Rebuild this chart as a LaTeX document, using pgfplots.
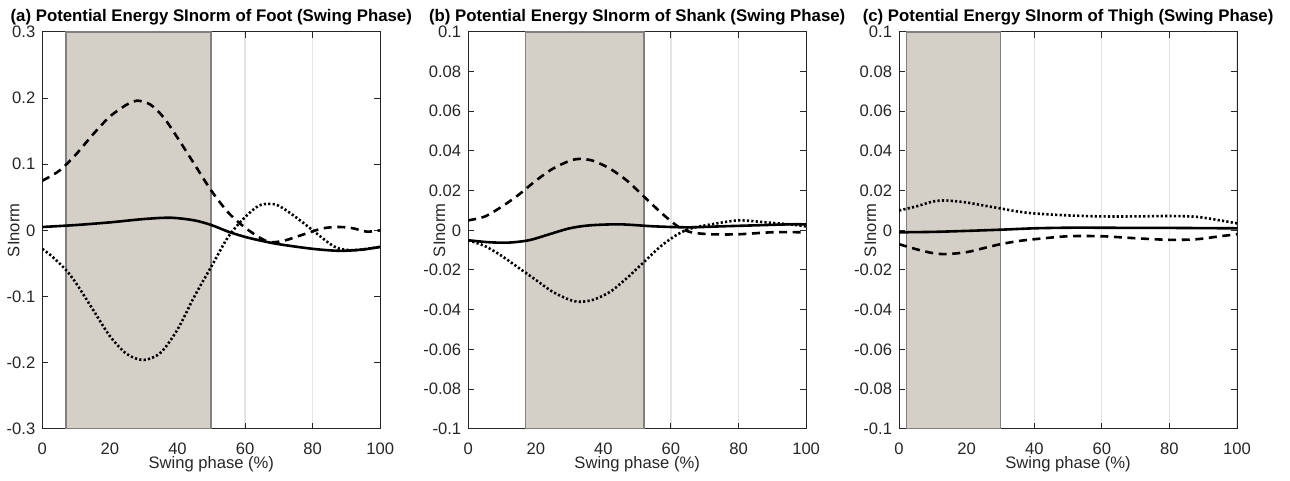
\documentclass[border={0pt 1pt 5pt 1.5pt}]{standalone}
\usepackage{fontspec}
\setmainfont{Liberation Sans}
\usepackage{pgfplots}
\pgfplotsset{compat=1.18}
\definecolor{patchgray}{RGB}{212,208,200}
\definecolor{edgegray}{RGB}{128,128,128}
\definecolor{axgray}{RGB}{38,38,38}
\definecolor{gridgray}{RGB}{228,228,228}
\pgfplotsset{
  swing/.style={
    scale only axis, width=169pt, height=198.5pt,
    xmin=0, xmax=100, xtick={0,20,...,100},
    font=\fontsize{8.3}{10}\selectfont,
    /pgf/number format/assume math mode=true,
    tick label style={font=\fontsize{8.3}{10}\selectfont, text=axgray},
    xticklabel style={yshift=-3.5pt},
    title style={font=\fontsize{8.4}{10}\selectfont\bfseries, yshift=-6.3pt},
    xlabel={Swing phase (\%)}, ylabel={SInorm},
    xlabel style={yshift=6pt, text=axgray},
    ylabel style={at={(axis description cs:-0.085,0.5)}, anchor=center, text=axgray},
    axis line style={axgray, line width=0.5pt},
    tick style={axgray, line width=0.5pt},
    tick align=inside, major tick length=3pt,
    xmajorgrids, grid style={gridgray, line width=0.6pt},
    every axis plot/.append style={black, line width=1.3pt},
  },
  dsh/.style={dash pattern=on 4pt off 2.8pt},
  dot/.style={dash pattern=on 1.1pt off 1.1pt},
  shade/.style={fill=patchgray, draw=edgegray, line width=0.8pt},
}
\begin{document}
\begin{tikzpicture}
% (a) Foot
\begin{axis}[swing, at={(0pt,0pt)}, ymin=-0.3, ymax=0.3, ytick={-0.3,-0.2,...,0.3},
  yticklabels={-0.3,-0.2,-0.1,0,0.1,0.2,0.3},
  title={(a) Potential Energy SInorm of Foot (Swing Phase)}]
\addplot[shade] coordinates {(7,-0.3) (7,0.3) (50,0.3) (50,-0.3)} -- cycle;
\addplot[dsh, smooth] coordinates {(0,0.075) (5,0.09) (10,0.115) (15,0.145) (20,0.172) (25,0.19) (28,0.196) (32,0.19) (36,0.17) (40,0.14) (45,0.1) (50,0.06) (55,0.027) (60,0.004) (65,-0.013) (68,-0.018) (72,-0.015) (78,-0.005) (83,0.003) (88,0.005) (92,0.003) (96,-0.002) (100,0.0)};
\addplot[dot, smooth] coordinates {(0,-0.028) (3,-0.04) (7,-0.06) (10,-0.08) (15,-0.12) (20,-0.16) (25,-0.187) (30,-0.196) (35,-0.185) (40,-0.15) (45,-0.1) (50,-0.055) (55,-0.01) (60,0.02) (64,0.037) (67,0.04) (70,0.037) (75,0.02) (80,0.0) (85,-0.02) (88,-0.028) (92,-0.03) (96,-0.028) (100,-0.025)};
\addplot[smooth] coordinates {(0,0.005) (10,0.008) (20,0.012) (30,0.017) (38,0.019) (45,0.015) (50,0.008) (55,-0.002) (60,-0.01) (65,-0.016) (70,-0.021) (80,-0.028) (88,-0.031) (95,-0.029) (100,-0.025)};
\end{axis}
% (b) Shank
\begin{axis}[swing, at={(213pt,0pt)}, ymin=-0.1, ymax=0.1, ytick={-0.1,-0.08,...,0.1},
  yticklabels={-0.1,-0.08,-0.06,-0.04,-0.02,0,0.02,0.04,0.06,0.08,0.1},
  title={(b) Potential Energy SInorm of Shank (Swing Phase)}]
\addplot[shade] coordinates {(17,-0.1) (17,0.1) (52,0.1) (52,-0.1)} -- cycle;
\addplot[dsh, smooth] coordinates {(0,0.005) (5,0.007) (10,0.012) (15,0.018) (20,0.025) (25,0.031) (30,0.035) (33,0.036) (37,0.035) (42,0.031) (47,0.025) (52,0.017) (57,0.009) (62,0.002) (66,-0.001) (72,-0.002) (80,-0.002) (90,-0.001) (100,-0.001)};
\addplot[dot, smooth] coordinates {(0,-0.005) (5,-0.008) (10,-0.013) (15,-0.019) (20,-0.025) (25,-0.031) (30,-0.035) (33,-0.036) (37,-0.035) (42,-0.031) (47,-0.024) (52,-0.016) (57,-0.008) (62,-0.002) (66,0.001) (72,0.003) (80,0.005) (88,0.004) (95,0.003) (100,0.002)};
\addplot[smooth] coordinates {(0,-0.005) (6,-0.006) (12,-0.0062) (18,-0.005) (24,-0.002) (30,0.001) (36,0.0025) (45,0.003) (55,0.002) (65,0.0015) (75,0.002) (85,0.0025) (95,0.003) (100,0.003)};
\end{axis}
% (c) Thigh
\begin{axis}[swing, at={(428.5pt,0pt)}, ymin=-0.1, ymax=0.1, ytick={-0.1,-0.08,...,0.1},
  yticklabels={-0.1,-0.08,-0.06,-0.04,-0.02,0,0.02,0.04,0.06,0.08,0.1},
  title={(c) Potential Energy SInorm of Thigh (Swing Phase)}]
\addplot[shade] coordinates {(2.2,-0.1) (2.2,0.1) (30,0.1) (30,-0.1)} -- cycle;
\addplot[dot, smooth] coordinates {(0,0.010) (5,0.012) (10,0.0145) (14,0.015) (20,0.014) (25,0.0125) (30,0.011) (35,0.0095) (40,0.0085) (50,0.0075) (60,0.007) (70,0.007) (80,0.0072) (88,0.0068) (95,0.005) (100,0.0035)};
\addplot[dsh, smooth] coordinates {(0,-0.007) (5,-0.0095) (10,-0.0115) (14,-0.012) (20,-0.011) (25,-0.009) (30,-0.007) (35,-0.0055) (40,-0.0045) (50,-0.003) (60,-0.003) (70,-0.004) (80,-0.0048) (88,-0.0045) (95,-0.003) (100,-0.002)};
\addplot[smooth] coordinates {(0,-0.001) (10,-0.0008) (20,-0.0003) (30,0.0003) (40,0.001) (50,0.0013) (60,0.0013) (70,0.0012) (80,0.0012) (90,0.0011) (100,0.001)};
\end{axis}
\end{tikzpicture}
\end{document}
